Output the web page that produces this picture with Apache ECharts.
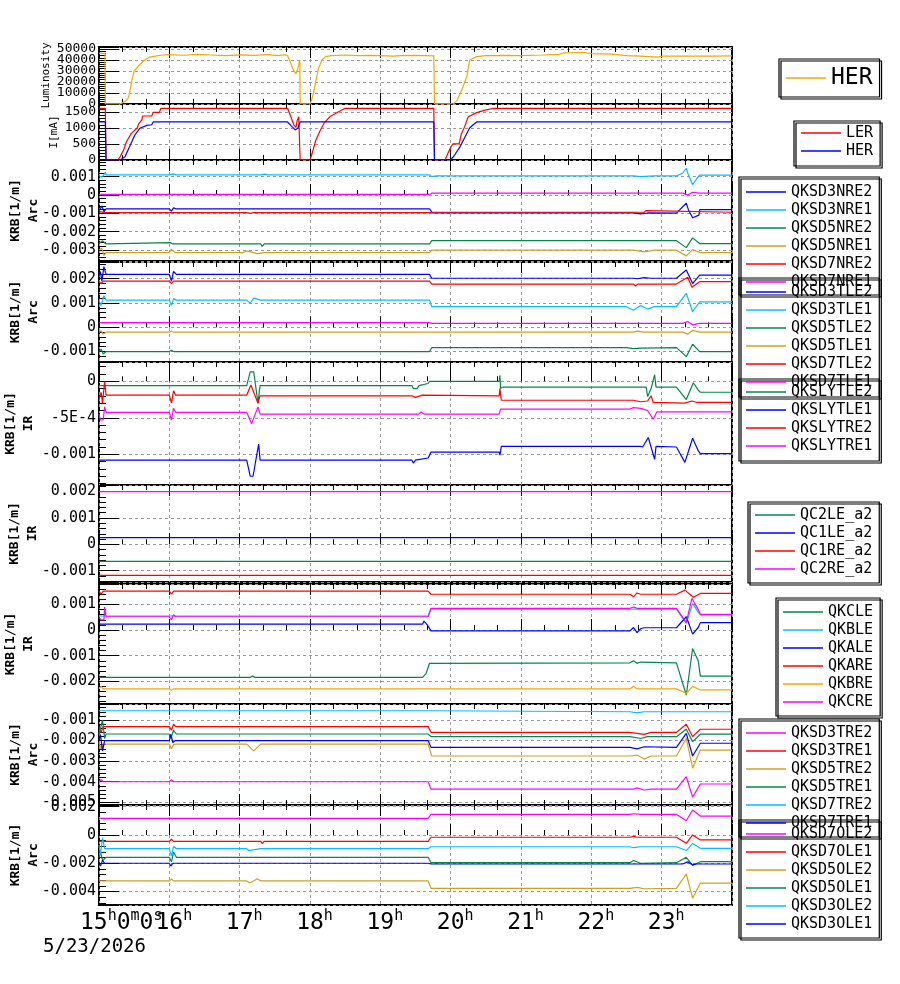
<!DOCTYPE html>
<html>
<head>
<meta charset="utf-8">
<script src="https://cdn.jsdelivr.net/npm/echarts@6/dist/echarts.min.js"></script>
<style>
html, body { margin: 0; background: #fff; }
#chart { width: 900px; height: 984px; }
</style>
</head>
<body>
<div id="chart"></div>
<script>
// time in hours of 2026-05-23
const hourTicks = [16, 17, 18, 19, 20, 21, 22, 23];

const lumHER = [[15,46000],[15.085,46000],[15.09,0],[15.3,0],[15.31,1500],[15.38,2500],[15.4,1000],[15.42,6000],[15.45,15000],[15.47,22000],[15.5,30000],[15.53,32000],[15.57,35000],[15.6,37000],[15.65,40000],[15.72,42500],[15.8,43500],[15.9,44500],[16.0,44800],[16.2,44300],[16.4,45000],[16.6,44500],[16.8,44000],[17.0,44600],[17.2,44200],[17.4,44800],[17.55,44000],[17.65,44800],[17.68,44000],[17.72,38000],[17.77,30000],[17.8,27500],[17.83,33000],[17.855,40000],[17.86,0],[18.0,0],[18.02,3000],[18.05,10000],[18.08,20000],[18.12,32000],[18.17,40000],[18.22,43000],[18.3,44000],[18.5,44500],[18.7,44000],[18.9,44200],[19.18,43500],[19.3,44000],[19.5,44200],[19.76,43800],[19.77,0],[20.04,0],[20.09,3000],[20.16,13000],[20.23,25000],[20.27,40000],[20.37,43000],[20.5,44000],[20.8,44200],[21.0,44000],[21.3,44500],[21.55,45000],[21.6,46500],[21.9,46800],[22.0,45800],[22.3,45300],[22.5,44000],[22.7,43500],[22.93,42500],[23.02,43500],[23.4,43600],[23.73,43500],[24,43800]];

const curLER = [[15,1616],[15.09,1616],[15.1,0],[15.27,0],[15.3,100],[15.35,310],[15.39,570],[15.46,830],[15.54,990],[15.57,1150],[15.61,1250],[15.62,1375],[15.75,1375],[15.77,1490],[15.86,1490],[15.88,1616],[17.68,1616],[17.72,1400],[17.77,1100],[17.8,1020],[17.82,1250],[17.84,1350],[17.855,1400],[17.86,0],[18.0,0],[18.03,200],[18.08,600],[18.14,900],[18.2,1150],[18.28,1350],[18.4,1500],[18.5,1616],[19.18,1616],[19.19,1570],[19.2,1616],[19.76,1616],[19.77,0],[19.92,0],[19.94,100],[19.99,350],[20.03,500],[20.12,500],[20.15,800],[20.2,1050],[20.25,1350],[20.37,1480],[20.49,1560],[20.61,1616],[24,1616]];
const curHER = [[15,1188],[15.09,1188],[15.1,0],[15.3,0],[15.37,100],[15.44,440],[15.51,780],[15.58,990],[15.68,1080],[15.75,1100],[15.77,1188],[17.68,1188],[17.74,1050],[17.79,940],[17.83,1000],[17.86,1188],[19.76,1188],[19.77,0],[19.99,0],[20.04,100],[20.13,400],[20.2,700],[20.27,1000],[20.32,1100],[20.37,1188],[24,1188]];

const QKSD3NRE2 = [[15,-0.00085],[15.04,-0.0006],[15.07,-0.0009],[15.1,-0.00076],[16.0,-0.00076],[16.03,-0.00088],[16.06,-0.0007],[16.1,-0.00076],[19.7,-0.00076],[19.74,-0.00098],[22.6,-0.00098],[22.7,-0.00103],[22.8,-0.00098],[23.21,-0.00099],[23.35,-0.00045],[23.38,-0.0008],[23.44,-0.00124],[23.53,-0.0011],[23.54,-0.0008],[24,-0.0008]];
const QKSD3NRE1 = [[15,0.00108],[15.03,0.00098],[15.06,0.00104],[15.09,0.00125],[15.1,0.0011],[16.0,0.0011],[16.02,0.001],[16.05,0.00115],[16.1,0.0011],[17.3,0.0011],[17.35,0.00114],[17.4,0.0011],[19.7,0.0011],[19.73,0.001],[19.8,0.00104],[22.6,0.00104],[22.7,0.001],[22.9,0.00104],[23.21,0.00104],[23.3,0.0012],[23.35,0.00146],[23.38,0.0011],[23.44,0.00056],[23.5,0.0009],[23.54,0.00108],[24,0.00108]];
const QKSD5NRE2 = [[15,-0.00265],[15.05,-0.0025],[15.1,-0.00267],[16.02,-0.0026],[16.05,-0.00267],[17.3,-0.00267],[17.32,-0.0028],[17.35,-0.00267],[19.7,-0.00267],[19.73,-0.00249],[23.21,-0.00249],[23.35,-0.00287],[23.44,-0.00234],[23.54,-0.00265],[24,-0.00265]];
const QKSD5NRE1 = [[15,-0.003],[15.04,-0.0029],[15.07,-0.0033],[15.1,-0.00314],[16.0,-0.00314],[16.03,-0.00295],[16.08,-0.00314],[17.05,-0.00314],[17.1,-0.00305],[17.25,-0.0032],[17.35,-0.00314],[19.7,-0.00314],[19.73,-0.00301],[22.6,-0.00301],[22.75,-0.0031],[22.9,-0.00301],[23.21,-0.00301],[23.35,-0.00332],[23.44,-0.00298],[23.54,-0.00314],[24,-0.00314]];
const QKSD7NRE2 = [[15,-0.00096],[15.03,-0.0009],[15.06,-0.00096],[17.1,-0.00096],[17.15,-0.001],[17.2,-0.00096],[19.7,-0.00096],[19.73,-0.00094],[22.75,-0.00094],[22.78,-0.00085],[22.8,-0.00094],[24,-0.00094]];
const QKSD7NRE1 = [[15,0.00003],[16.0,0.00003],[16.02,0],[16.05,0.00003],[19.7,0.00003],[19.73,0.0001],[23.3,0.0001],[23.37,0],[23.44,0.00015],[23.54,0.0001],[24,0.0001]];

const QKSD3TLE2 = [[15,0.0021],[15.02,0.0023],[15.04,0.0019],[15.07,0.0025],[15.1,0.00218],[16.0,0.00218],[16.03,0.0019],[16.06,0.0023],[16.1,0.00218],[19.7,0.00218],[19.73,0.00202],[22.6,0.00202],[22.65,0.002],[22.75,0.00205],[22.85,0.00202],[23.21,0.00202],[23.35,0.00236],[23.44,0.0018],[23.54,0.00215],[24,0.00215]];
const QKSD3TLE1 = [[15,0.0011],[15.03,0.0009],[15.07,0.0013],[15.1,0.00112],[16.0,0.00112],[16.03,0.0009],[16.06,0.00118],[16.1,0.00112],[17.1,0.00112],[17.15,0.001],[17.2,0.0012],[17.3,0.00112],[19.7,0.00112],[19.73,0.00085],[22.5,0.00085],[22.6,0.0007],[22.7,0.0009],[22.8,0.00075],[22.9,0.00085],[23.21,0.00085],[23.35,0.0014],[23.44,0.00064],[23.54,0.00105],[24,0.00105]];
const QKSD5TLE2 = [[15,-0.001],[15.03,-0.0009],[15.06,-0.0011],[15.1,-0.001],[16.0,-0.001],[16.03,-0.00095],[16.06,-0.001],[19.7,-0.001],[19.73,-0.00084],[22.5,-0.00084],[22.6,-0.00088],[22.7,-0.00086],[23.21,-0.00084],[23.35,-0.00121],[23.44,-0.0007],[23.54,-0.001],[24,-0.001]];
const QKSD5TLE1 = [[15,-0.0002],[15.03,-0.00015],[15.06,-0.00028],[15.1,-0.0002],[16.0,-0.0002],[16.03,-0.00015],[16.06,-0.0002],[22.6,-0.0002],[22.65,-0.00016],[22.75,-0.0002],[23.3,-0.0002],[23.37,-0.00028],[23.44,-0.00013],[23.54,-0.0002],[24,-0.0002]];
const QKSD7TLE2 = [[15,0.0019],[15.03,0.0018],[15.06,0.0019],[16.0,0.0019],[16.03,0.0018],[16.06,0.0019],[19.7,0.0019],[19.73,0.00178],[22.6,0.00178],[22.63,0.0017],[22.66,0.00178],[23.21,0.00178],[23.37,0.00206],[23.43,0.00165],[23.54,0.00188],[24,0.00188]];
const QKSD7TLE1 = [[15,0.00019],[16.02,0.00019],[16.03,0.00015],[16.06,0.00019],[19.7,0.00019],[19.73,0.00016],[22.8,0.00016],[22.82,0.0001],[22.85,0.00016],[23.3,0.00016],[23.37,0.00024],[23.44,0.0001],[23.54,0.00016],[24,0.00016]];

const QKSLYTLE2 = [[15,-0.00006],[17.1,-0.00006],[17.15,0.00013],[17.2,0.00013],[17.26,-0.0003],[17.29,-0.00006],[19.45,-0.00006],[19.47,-0.0001],[19.52,-0.0001],[19.55,-0.00006],[19.68,-0.00003],[19.7,0],[20.69,0],[20.7,0.00008],[20.71,-0.0001],[20.72,-0.00011],[20.74,-0.00008],[22.78,-0.00008],[22.8,-0.00021],[22.85,-0.0001],[22.9,0.00009],[22.92,-0.00008],[23.21,-0.00008],[23.35,-0.00025],[23.45,-0.00002],[23.52,-0.00012],[23.55,-0.00015],[24,-0.00015]];
const QKSLYTLE1 = [[15,-0.00108],[17.1,-0.00108],[17.15,-0.0013],[17.19,-0.0013],[17.27,-0.00086],[17.29,-0.00108],[19.45,-0.00108],[19.47,-0.00112],[19.5,-0.00108],[19.68,-0.00105],[19.72,-0.00097],[20.69,-0.00097],[20.7,-0.00101],[20.72,-0.00089],[22.7,-0.00089],[22.73,-0.0009],[22.81,-0.00077],[22.9,-0.00107],[22.92,-0.00089],[23.21,-0.0009],[23.33,-0.00111],[23.44,-0.00078],[23.52,-0.00095],[23.55,-0.00099],[24,-0.00099]];
const QKSLYTRE2 = [[15,-0.00025],[15.03,-0.00015],[15.05,-0.0003],[15.08,0],[15.1,-0.00019],[16.0,-0.00019],[16.03,-0.0003],[16.06,-0.00013],[16.09,-0.00019],[17.1,-0.00019],[17.16,-0.00005],[17.26,-0.0003],[17.29,-0.0002],[19.45,-0.0002],[19.5,-0.00022],[19.6,-0.00019],[20.69,-0.0002],[20.7,-0.0001],[20.72,-0.00026],[22.6,-0.00026],[22.7,-0.00028],[22.8,-0.00027],[22.85,-0.0002],[22.88,-0.00029],[23.33,-0.0003],[23.43,-0.00027],[23.5,-0.00029],[24,-0.00029]];
const QKSLYTRE1 = [[15,-0.00045],[15.02,-0.00053],[15.06,-0.00053],[15.08,-0.00035],[15.1,-0.000425],[16.0,-0.000425],[16.03,-0.00053],[16.06,-0.00037],[16.09,-0.000425],[17.1,-0.000425],[17.17,-0.00058],[17.26,-0.00035],[17.29,-0.00045],[19.55,-0.00045],[19.58,-0.00042],[19.62,-0.00045],[20.69,-0.00045],[20.71,-0.00038],[22.55,-0.00038],[22.6,-0.00036],[22.7,-0.00037],[22.8,-0.0004],[22.88,-0.00052],[22.93,-0.00042],[24,-0.00042]];

const QC2LE_a2 = [[15,-0.00065],[24,-0.00065]];
const QC1LE_a2 = [[15,0.00025],[24,0.00025]];
const QC1RE_a2 = [[15,-0.00118],[24,-0.00118]];
const QC2RE_a2 = [[15,0.002],[24,0.002]];

const QKCLE = [[15,-0.00185],[17.15,-0.00185],[17.18,-0.0018],[17.22,-0.00185],[19.6,-0.00185],[19.65,-0.0017],[19.7,-0.0013],[19.72,-0.00128],[22.55,-0.00128],[22.6,-0.0012],[22.65,-0.0013],[22.7,-0.00125],[23.21,-0.00128],[23.35,-0.00254],[23.44,-0.00072],[23.52,-0.0012],[23.55,-0.0018],[24,-0.0018]];
const QKBLE = [[15,0.00055],[19.68,0.00055],[19.72,0.00082],[23.21,0.00082],[23.35,0.00026],[23.44,0.00104],[23.52,0.0007],[23.55,0.00059],[24,0.00059]];
const QKALE = [[15,0.00023],[19.6,0.00023],[19.62,0.00035],[19.66,0.00023],[19.72,-0.00003],[22.55,-0.00003],[22.6,0.0001],[22.65,-0.0001],[22.7,0.00005],[22.75,0.00009],[23.21,0.00009],[23.35,0.00052],[23.44,-0.00016],[23.52,0.0001],[23.55,0.00029],[24,0.00029]];
const QKARE = [[15,0.00152],[15.03,0.0014],[15.06,0.00152],[16.0,0.00152],[16.03,0.0014],[16.06,0.00152],[19.68,0.00152],[19.72,0.0014],[22.55,0.0014],[22.6,0.0013],[22.65,0.00145],[22.7,0.0014],[23.21,0.0014],[23.33,0.00156],[23.45,0.00128],[23.55,0.00143],[24,0.00143]];
const QKBRE = [[15,-0.0023],[15.03,-0.0022],[15.06,-0.0023],[16.0,-0.0023],[16.03,-0.00235],[16.06,-0.0023],[22.55,-0.0023],[22.6,-0.0022],[22.65,-0.0023],[23.21,-0.0023],[23.35,-0.00247],[23.44,-0.0022],[23.55,-0.00234],[24,-0.00234]];
const QKCRE = [[15,0.0005],[15.03,0.0004],[15.07,0.0004],[15.08,0.0009],[15.1,0.00052],[16.0,0.00052],[16.03,0.0004],[16.06,0.0006],[16.09,0.00052],[19.68,0.00052],[19.72,0.00085],[22.55,0.00085],[22.6,0.0009],[22.65,0.00085],[23.21,0.00085],[23.35,0.0003],[23.43,0.00124],[23.52,0.0008],[23.55,0.00061],[24,0.00061]];

const QKSD3TRE2 = [[15,-0.004],[15.03,-0.0039],[15.06,-0.004],[16.0,-0.004],[16.03,-0.0039],[16.06,-0.004],[19.68,-0.004],[19.72,-0.00436],[22.6,-0.00436],[22.65,-0.0043],[22.75,-0.0044],[22.85,-0.00436],[23.21,-0.00436],[23.35,-0.00375],[23.44,-0.00475],[23.55,-0.00411],[24,-0.00411]];
const QKSD3TRE1 = [[15,-0.00132],[15.03,-0.0016],[15.06,-0.00132],[16.0,-0.00132],[16.03,-0.0015],[16.06,-0.0012],[16.09,-0.00132],[19.68,-0.00132],[19.72,-0.0016],[22.55,-0.0016],[22.65,-0.00165],[22.75,-0.0017],[22.85,-0.0016],[23.21,-0.0016],[23.35,-0.00121],[23.44,-0.00181],[23.55,-0.00145],[24,-0.00145]];
const QKSD5TRE2 = [[15,-0.0021],[15.03,-0.0024],[15.06,-0.00217],[16.0,-0.00217],[16.03,-0.0024],[16.06,-0.0022],[16.1,-0.00217],[17.1,-0.00217],[17.2,-0.0025],[17.3,-0.00217],[19.68,-0.00217],[19.7,-0.0024],[19.73,-0.00275],[22.55,-0.00275],[22.65,-0.0027],[22.75,-0.0029],[22.85,-0.00275],[23.21,-0.00275],[23.35,-0.00189],[23.44,-0.00334],[23.55,-0.00246],[24,-0.00246]];
const QKSD5TRE1 = [[15,-0.0017],[15.05,-0.001],[15.08,-0.0019],[15.1,-0.00168],[16.0,-0.00168],[16.02,-0.0019],[16.06,-0.0015],[16.1,-0.00168],[19.68,-0.00168],[19.72,-0.00181],[22.55,-0.00181],[22.7,-0.0019],[22.8,-0.00181],[23.21,-0.00181],[23.35,-0.00145],[23.44,-0.00205],[23.55,-0.00169],[24,-0.00169]];
const QKSD7TRE2 = [[15,-0.00055],[19.7,-0.00055],[19.72,-0.0006],[22.55,-0.0006],[22.65,-0.00065],[22.75,-0.0006],[24,-0.0006]];
const QKSD7TRE1 = [[15,-0.002],[15.02,-0.0017],[15.05,-0.0025],[15.08,-0.002],[16.0,-0.002],[16.02,-0.0017],[16.05,-0.0021],[16.08,-0.002],[19.68,-0.002],[19.72,-0.00233],[22.55,-0.00233],[22.65,-0.0024],[22.75,-0.0023],[23.21,-0.00233],[23.35,-0.00165],[23.44,-0.00275],[23.55,-0.00213],[24,-0.00213]];

const QKSD7OLE2 = [[15,0.00118],[15.07,0.00118],[15.08,0.0013],[15.1,0.00118],[19.68,0.00118],[19.72,0.00146],[22.55,0.00146],[22.6,0.0015],[22.7,0.00146],[23.21,0.00146],[23.35,0.00101],[23.44,0.00177],[23.55,0.00134],[24,0.00134]];
const QKSD7OLE1 = [[15,-0.00045],[16.0,-0.00045],[16.03,-0.0003],[16.06,-0.00045],[17.3,-0.00045],[17.32,-0.0006],[17.35,-0.00045],[19.68,-0.00045],[19.72,-0.00016],[22.55,-0.00016],[22.6,-0.0001],[22.65,-0.00016],[23.21,-0.00016],[23.35,-0.00059],[23.44,0],[23.55,-0.00035],[24,-0.00035]];
const QKSD5OLE2 = [[15,-0.00325],[16.0,-0.00325],[16.03,-0.0031],[16.06,-0.00325],[17.1,-0.00325],[17.15,-0.0034],[17.25,-0.0031],[17.3,-0.00325],[19.68,-0.00325],[19.72,-0.00377],[22.55,-0.00377],[22.65,-0.0037],[22.75,-0.0038],[23.21,-0.00377],[23.35,-0.00276],[23.44,-0.00447],[23.55,-0.00341],[24,-0.00341]];
const QKSD5OLE1 = [[15,-0.0016],[15.02,-0.0012],[15.05,-0.0018],[15.1,-0.00158],[16.0,-0.00158],[16.03,-0.0019],[16.06,-0.0012],[16.1,-0.00158],[19.68,-0.00158],[19.72,-0.00196],[22.55,-0.00196],[22.6,-0.0018],[22.7,-0.002],[23.21,-0.00196],[23.35,-0.00158],[23.44,-0.00215],[23.55,-0.00189],[24,-0.00189]];
const QKSD3OLE2 = [[15,-0.0007],[15.02,-0.0014],[15.05,-0.0002],[15.08,-0.00097],[16.0,-0.00097],[16.03,-0.0015],[16.06,-0.0008],[16.1,-0.00097],[17.1,-0.00097],[17.13,-0.0011],[17.3,-0.00097],[19.68,-0.00097],[19.72,-0.00083],[22.55,-0.00083],[22.6,-0.0009],[22.7,-0.00083],[23.21,-0.00083],[23.35,-0.0011],[23.44,-0.0006],[23.55,-0.00094],[24,-0.00094]];
const QKSD3OLE1 = [[15,-0.002],[15.02,-0.0022],[15.05,-0.0018],[15.08,-0.002],[16.0,-0.002],[16.02,-0.0022],[16.05,-0.002],[19.68,-0.002],[19.72,-0.00205],[23.3,-0.00205],[23.37,-0.0019],[23.44,-0.0021],[23.5,-0.00205],[24,-0.00205]];

const BLUE = '#0000ff', CYAN = '#00bfff', GREEN = '#00884a', GOLD = '#d0a020',
      RED = '#ff0000', MAG = '#ff00ff', ORANGE = '#f2a900';
const MONO = "'DejaVu Sans Mono', monospace";

const panels = [
  { top: 47, height: 57, min: -100, max: 51800, split: 5, name: 'Luminosity', nameGap: 44, nameSize: 11, bold: false, labelSize: 13, plain: true,
    series: [['HER', ORANGE, lumHER]],
    legend: { left: 779, top: 59, fontSize: 23, lineHeight: 28, padding: [5, 7, 5, 7] } },
  { top: 104, height: 56, min: -2, max: 1750, split: 3, name: 'I[mA]', nameGap: 36, nameSize: 11, bold: false, labelSize: 13, plain: true,
    series: [['LER', RED, curLER], ['I:HER', BLUE, curHER]],
    legend: { left: 794, top: 121, padding: [3, 7, 6, 7] } },
  { top: 160, height: 101, min: -0.0036, max: 0.00191, split: 5, name: 'KRB[1/m]\nArc', nameGap: 56,
    series: [['QKSD3NRE2', BLUE, QKSD3NRE2], ['QKSD3NRE1', CYAN, QKSD3NRE1], ['QKSD5NRE2', GREEN, QKSD5NRE2],
             ['QKSD5NRE1', GOLD, QKSD5NRE1], ['QKSD7NRE2', RED, QKSD7NRE2], ['QKSD7NRE1', MAG, QKSD7NRE1]],
    legend: { left: 739, top: 177, padding: [6, 7, 4, 7] } },
  { top: 262, height: 100, min: -0.00143, max: 0.00269, split: 4, name: 'KRB[1/m]\nArc', nameGap: 56,
    series: [['QKSD3TLE2', BLUE, QKSD3TLE2], ['QKSD3TLE1', CYAN, QKSD3TLE1], ['QKSD5TLE2', GREEN, QKSD5TLE2],
             ['QKSD5TLE1', GOLD, QKSD5TLE1], ['QKSD7TLE2', RED, QKSD7TLE2], ['QKSD7TLE1', MAG, QKSD7TLE1]],
    legend: { left: 739, top: 278, padding: [5, 7, 6, 7] } },
  { top: 362, height: 123, min: -0.00142, max: 0.000264, split: 3, name: 'KRB[1/m]\nIR', nameGap: 61,
    series: [['QKSLYTLE2', GREEN, QKSLYTLE2], ['QKSLYTLE1', BLUE, QKSLYTLE1], ['QKSLYTRE2', RED, QKSLYTRE2], ['QKSLYTRE1', MAG, QKSLYTRE1]],
    legend: { left: 739, top: 379, padding: [4, 7, 6, 7] } },
  { top: 485, height: 97, min: -0.00143, max: 0.00225, split: 4, name: 'KRB[1/m]\nIR', nameGap: 57,
    series: [['QC2LE_a2', GREEN, QC2LE_a2], ['QC1LE_a2', BLUE, QC1LE_a2], ['QC1RE_a2', RED, QC1RE_a2], ['QC2RE_a2', MAG, QC2RE_a2]],
    legend: { left: 748, top: 502, padding: [4, 7, 5, 7] } },
  { top: 584, height: 120, min: -0.00289, max: 0.0018, split: 5, name: 'KRB[1/m]\nIR', nameGap: 61,
    series: [['QKCLE', GREEN, QKCLE], ['QKBLE', CYAN, QKBLE], ['QKALE', BLUE, QKALE],
             ['QKARE', RED, QKARE], ['QKBRE', ORANGE, QKBRE], ['QKCRE', MAG, QKCRE]],
    legend: { left: 776, top: 598, padding: [5, 7, 5, 7] } },
  { top: 704, height: 101, min: -0.00513, max: -0.000223, split: 5, name: 'KRB[1/m]\nArc', nameGap: 56,
    series: [['QKSD3TRE2', MAG, QKSD3TRE2], ['QKSD3TRE1', RED, QKSD3TRE1], ['QKSD5TRE2', GOLD, QKSD5TRE2],
             ['QKSD5TRE1', GREEN, QKSD5TRE1], ['QKSD7TRE2', CYAN, QKSD7TRE2], ['QKSD7TRE1', BLUE, QKSD7TRE1]],
    legend: { left: 739, top: 719, padding: [5, 7, 5, 7] } },
  { top: 805, height: 100, min: -0.00495, max: 0.00212, split: 4, name: 'KRB[1/m]\nArc', nameGap: 56,
    series: [['QKSD7OLE2', MAG, QKSD7OLE2], ['QKSD7OLE1', RED, QKSD7OLE1], ['QKSD5OLE2', GOLD, QKSD5OLE2],
             ['QKSD5OLE1', GREEN, QKSD5OLE1], ['QKSD3OLE2', CYAN, QKSD3OLE2], ['QKSD3OLE1', BLUE, QKSD3OLE1]],
    legend: { left: 739, top: 820, padding: [5, 7, 5, 7] } }
];

function krbLabel(v) {
  if (Math.abs(v) < 1e-10) return '0';
  if (Math.abs(v + 0.0005) < 1e-10) return '-5E-4';
  return String(parseFloat(v.toPrecision(6)));
}

const grids = [], xAxes = [], yAxes = [], series = [], legends = [];
const tickStyle = { color: '#000', width: 1 };
const gridLine = { show: true, lineStyle: { color: '#999', width: 1, type: [3, 3] } };

panels.forEach((p, i) => {
  const last = i === panels.length - 1;
  grids.push({ left: 99, right: 168, top: p.top, height: p.height, show: true, borderColor: '#000', borderWidth: 2,
               backgroundColor: 'transparent', containLabel: false, outerBoundsMode: 'none' });
  xAxes.push({
    gridIndex: i, type: 'value', min: 15, max: 24, interval: 1, position: 'bottom',
    axisLine: { show: false },
    axisTick: { show: true, inside: true, length: 11, lineStyle: tickStyle },
    minorTick: { show: true, splitNumber: 3, length: 5, lineStyle: tickStyle },
    splitLine: gridLine,
    axisLabel: {
      show: last, margin: 4, showMinLabel: false, showMaxLabel: false, hideOverlap: false,
      formatter: v => hourTicks.includes(v) ? '{p| }{d|' + v + '}{u|h}' : '',
      rich: {
        p: { width: 9, fontSize: 14, fontFamily: MONO },
        d: { fontSize: 23, fontFamily: MONO, color: '#000', lineHeight: 28 },
        u: { fontSize: 15, fontFamily: MONO, color: '#000', verticalAlign: 'top', lineHeight: 16 }
      }
    }
  });
  xAxes.push({
    gridIndex: i, type: 'value', min: 15, max: 24, interval: 1, position: 'top',
    axisLine: { show: false },
    axisTick: { show: true, inside: true, length: 11, lineStyle: tickStyle },
    minorTick: { show: true, splitNumber: 3, length: 5, lineStyle: tickStyle },
    splitLine: { show: false }, axisLabel: { show: false }
  });
  yAxes.push({
    gridIndex: i, type: 'value', min: p.min, max: p.max, splitNumber: p.split, position: 'left',
    name: p.name, nameLocation: 'middle', nameRotate: 90, nameGap: p.nameGap, nameMoveOverlap: false,
    nameTextStyle: { fontFamily: MONO, fontSize: p.nameSize || 13, fontWeight: p.bold === false ? 'normal' : 'bold', lineHeight: 18, color: '#000', align: 'center' },
    axisLine: { show: false },
    axisTick: { show: true, inside: true, length: 20, lineStyle: tickStyle },
    minorTick: { show: true, splitNumber: 5, length: 7, lineStyle: tickStyle },
    splitLine: gridLine,
    axisLabel: {
      margin: 3, fontFamily: MONO, fontSize: p.labelSize || 15, lineHeight: p.labelSize ? 11 : 15, color: '#000',
      showMinLabel: false, showMaxLabel: false, hideOverlap: false,
      formatter: p.plain ? (v => String(Math.round(v))) : krbLabel
    }
  });
  p.series.forEach(([name, color, data]) => {
    series.push({
      name, type: 'line', xAxisIndex: 2 * i, yAxisIndex: i, data,
      showSymbol: false, symbol: 'none', animation: false,
      itemStyle: { color }, lineStyle: { color, width: 1.2 }
    });
  });
  const L = p.legend;
  legends.push({
    orient: 'vertical', left: L.left, top: L.top, padding: L.padding,
    data: p.series.map(s => s[0]), icon: 'rect', itemWidth: 40, itemHeight: 1.5, itemGap: 0,
    selectedMode: false, borderColor: '#000', borderWidth: 1.2, backgroundColor: 'rgba(255,255,255,0)',
    shadowColor: '#000', shadowOffsetX: 2, shadowOffsetY: 2, shadowBlur: 0,
    textStyle: { fontFamily: MONO, fontSize: L.fontSize || 15, lineHeight: L.lineHeight || 18, color: '#000' },
    formatter: n => n.replace(/^I:/, '')
  });
});

const chart = echarts.init(document.getElementById('chart'), null, { renderer: 'canvas' });
chart.setOption({
  animation: false,
  backgroundColor: '#fff',
  grid: grids, xAxis: xAxes, yAxis: yAxes, series, legend: legends,
  graphic: [
    { type: 'text', left: 80, top: 909, style: {
        text: '{d|15}{u|h}{d|0}{u|m}{d|0}{u|s}',
        rich: {
          d: { fontSize: 23, fontFamily: MONO, fill: '#000', lineHeight: 28 },
          u: { fontSize: 15, fontFamily: MONO, fill: '#000', verticalAlign: 'top', lineHeight: 16 }
        } } },
    { type: 'text', left: 43, top: 938, style: { text: '5/23/2026', fontSize: 19, fontFamily: MONO, fill: '#000' } }
  ]
});
</script>
</body>
</html>
